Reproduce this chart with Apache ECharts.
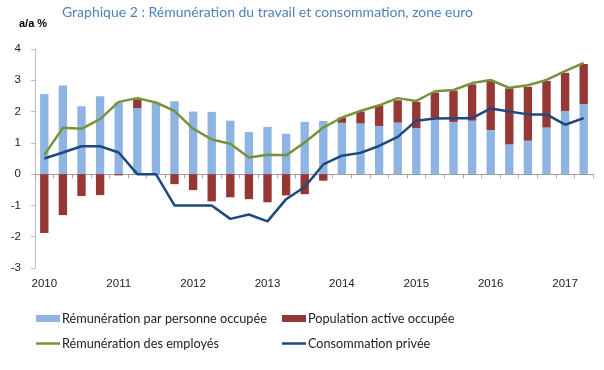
<!DOCTYPE html>
<html><head><meta charset="utf-8">
<script src="https://cdn.jsdelivr.net/npm/echarts@6/dist/echarts.min.js"></script>
<style>html,body{margin:0;padding:0;background:#fff}#c{width:604px;height:370px}</style>
</head><body><div id="c"></div>
<script>
const quarters = ['2010 T1','2010 T2','2010 T3','2010 T4','2011 T1','2011 T2','2011 T3','2011 T4','2012 T1','2012 T2','2012 T3','2012 T4','2013 T1','2013 T2','2013 T3','2013 T4','2014 T1','2014 T2','2014 T3','2014 T4','2015 T1','2015 T2','2015 T3','2015 T4','2016 T1','2016 T2','2016 T3','2016 T4','2017 T1','2017 T2'];
const remParPersonne = [2.56,2.83,2.17,2.49,2.30,2.11,2.28,2.33,2.00,1.99,1.71,1.35,1.51,1.29,1.67,1.70,1.64,1.62,1.54,1.65,1.47,1.80,1.67,1.71,1.41,0.95,1.07,1.49,2.02,2.24];
const populationActive = [-1.88,-1.31,-0.70,-0.67,-0.04,0.28,0,-0.32,-0.51,-0.87,-0.74,-0.80,-0.90,-0.68,-0.64,-0.21,0.17,0.38,0.66,0.71,0.84,0.81,1.00,1.16,1.58,1.79,1.72,1.49,1.22,1.28];
const remEmployes = [0.61,1.48,1.45,1.76,2.31,2.43,2.29,2.02,1.45,1.11,0.97,0.53,0.62,0.60,1.01,1.49,1.81,2.02,2.20,2.43,2.34,2.65,2.69,2.91,3.01,2.76,2.84,3.01,3.29,3.56];
const consoPrivee = [0.50,0.69,0.89,0.89,0.69,0.00,0.00,-1.00,-1.00,-1.00,-1.43,-1.29,-1.51,-0.80,-0.41,0.31,0.59,0.68,0.90,1.19,1.71,1.78,1.79,1.79,2.10,2.00,1.91,1.91,1.58,1.79];
const yTicks = [-3,-2,-1,0,1,2,3,4];

const names = ['Rémunération par personne occupée','Population active occupée','Rémunération des employés','Consommation privée'];
const colors = ['#8db4e2','#953735','#77933c','#1f497d'];
const legendFont = {fontFamily:'Lato', fontSize:12.7, color:'#222'};

const chart = echarts.init(document.getElementById('c'), null, {renderer:'canvas'});
function legend(i, left, top, line){
  return {data:[names[i]], left:left, top:top, icon:'rect', itemWidth:24, itemHeight: line?2.5:7,
    itemGap:0, padding:0, textStyle:Object.assign({padding:[0,0,0,-3]}, legendFont), selectedMode:false};
}
chart.setOption({
  animation:false,
  title:[{text:'Graphique 2 : Rémunération du travail et consommation, zone euro', left:62, top:5, padding:0,
     textStyle:{fontFamily:'Lato', fontSize:14, fontWeight:'normal', color:'#4f81bd'}},
   {text:'a/a %', left:14, top:13, textStyle:{fontFamily:'Liberation Sans Narrow, Liberation Sans', fontSize:11, fontWeight:'bold', color:'#000'}}],
  legend:[legend(0,36,312,false), legend(1,282,312,false), legend(2,36,337,true), legend(3,282,337,true)],
  grid:{left:35, right:11, top:49, bottom:102},
  xAxis:[{type:'category', data:quarters, axisLine:{onZero:true, lineStyle:{color:'#a0a0a0', width:1}},
     axisTick:{show:true, interval:0, length:4, lineStyle:{color:'#a0a0a0'}}, axisLabel:{show:false}},
   {type:'category', data:quarters, position:'bottom', axisLine:{show:false, onZero:false}, axisTick:{show:false},
     axisLabel:{interval:3, margin:10, formatter:v=>v.slice(0,4), fontFamily:'Liberation Sans', fontSize:11.5, color:'#222'}}],
  yAxis:{type:'value', min:yTicks[0], max:yTicks[yTicks.length-1], interval:1,
    axisLine:{show:true, lineStyle:{color:'#bfbfbf'}}, axisTick:{show:true, length:4, lineStyle:{color:'#bfbfbf'}},
    splitLine:{show:false}, axisLabel:{margin:14, fontFamily:'Liberation Sans', fontSize:11.5, color:'#222'}},
  series:[
    {name:names[0], type:'bar', stack:'s', data:remParPersonne, itemStyle:{color:colors[0]}, barWidth:'45%'},
    {name:names[1], type:'bar', stack:'s', data:populationActive, itemStyle:{color:colors[1]}, barWidth:'45%'},
    {name:names[2], type:'line', data:remEmployes, symbol:'none', lineStyle:{color:colors[2], width:2.5}, itemStyle:{color:colors[2]}},
    {name:names[3], type:'line', data:consoPrivee, symbol:'none', lineStyle:{color:colors[3], width:2.5}, itemStyle:{color:colors[3]}}
  ]
});
</script></body></html>
